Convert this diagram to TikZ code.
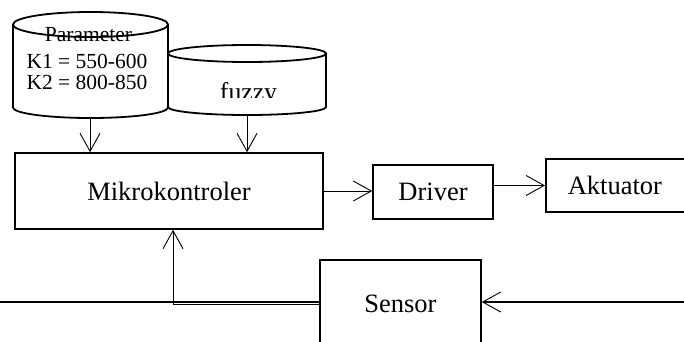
\documentclass[tikz,border=0pt]{standalone}
\usepackage{fontspec}
\setmainfont{Liberation Serif}
\usetikzlibrary{arrows.meta}
\begin{document}
\begin{tikzpicture}[x = 1pt, y = 1pt,
        blok/.style = {draw, line width = 1.6pt, inner sep = 0pt, font = \fontsize{26.5}{30}\selectfont},
        teks/.style = {anchor = base, inner sep = 0pt, font = \fontsize{21.5}{23}\selectfont},
        panah/.style = {line width = 0.9pt, -{Straight Barb[length = 18pt, width = 20pt]}},
        tabung/.style = {line width = 1.8pt}
    ]
    \clip (0, 0) rectangle (684, 341);

    % tabung
    \draw [tabung]
        (90.5, 316.5) ellipse [x radius = 77.5, y radius = 12.5]
        (13, 316.5) -- (13, 233.5) arc [start angle = 180, end angle = 360, x radius = 77.5, y radius = 10.5] -- (168, 316.5)
        (247, 287.5) ellipse [x radius = 79, y radius = 8.5]
        (168, 287.5) -- (168, 234) arc [start angle = 180, end angle = 360, x radius = 79, y radius = 8] -- (326, 287.5)
    ;
    \node [teks] (par1) at (88.5, 300) {Parameter};
    \node [teks] (par2) at (87, 273) {K1 = 550-600};
    \node [teks] (par3) at (87, 252) {K2 = 800-850};
    \begin{scope}
        \clip (168, 244) rectangle (326, 300);
        \node [anchor = base, font = \fontsize{25.7}{30}\selectfont] (fz) at (248.5, 240.5) {fuzzy};
    \end{scope}
    \coordinate (pb) at (90, 223);
    \coordinate (fb) at (247, 226);

    % blok
    \node [blok, minimum width = 308pt, minimum height = 76pt] (mk) at (169, 150) {Mikrokontroler};
    \node [blok, minimum width = 120pt, minimum height = 54pt] (drv) at (433, 149) {Driver};
    \node [blok, anchor = west, align = left, inner xsep = 22pt, text width = 106pt, minimum height = 53pt] (akt) at (545, 155.5) {Aktuator};
    \node [blok, minimum width = 161pt, minimum height = 88pt] (sen) at (400.5, 37) {Sensor};

    \coordinate (kiri) at (0, 39);
    \coordinate (kanan) at (684, 39);

    \draw [panah] (pb) -- (pb |- mk.north);
    \draw [panah] (fb) -- (fb |- mk.north);
    \draw [panah] (mk.east) -- (mk.east -| drv.west);
    \draw [panah] (akt.west -| drv.east) -- (akt.west);
    \draw [panah] (sen.west) -| ([xshift = 4pt] mk.south);
    \draw [line width = 1.8pt] (kiri) -- (kiri -| sen.west);
    \draw [line width = 1.8pt, -{Straight Barb[length = 18pt, width = 20pt, line width = 0.9pt]}] (kanan) -- (kanan -| sen.east);
\end{tikzpicture}
\end{document}
